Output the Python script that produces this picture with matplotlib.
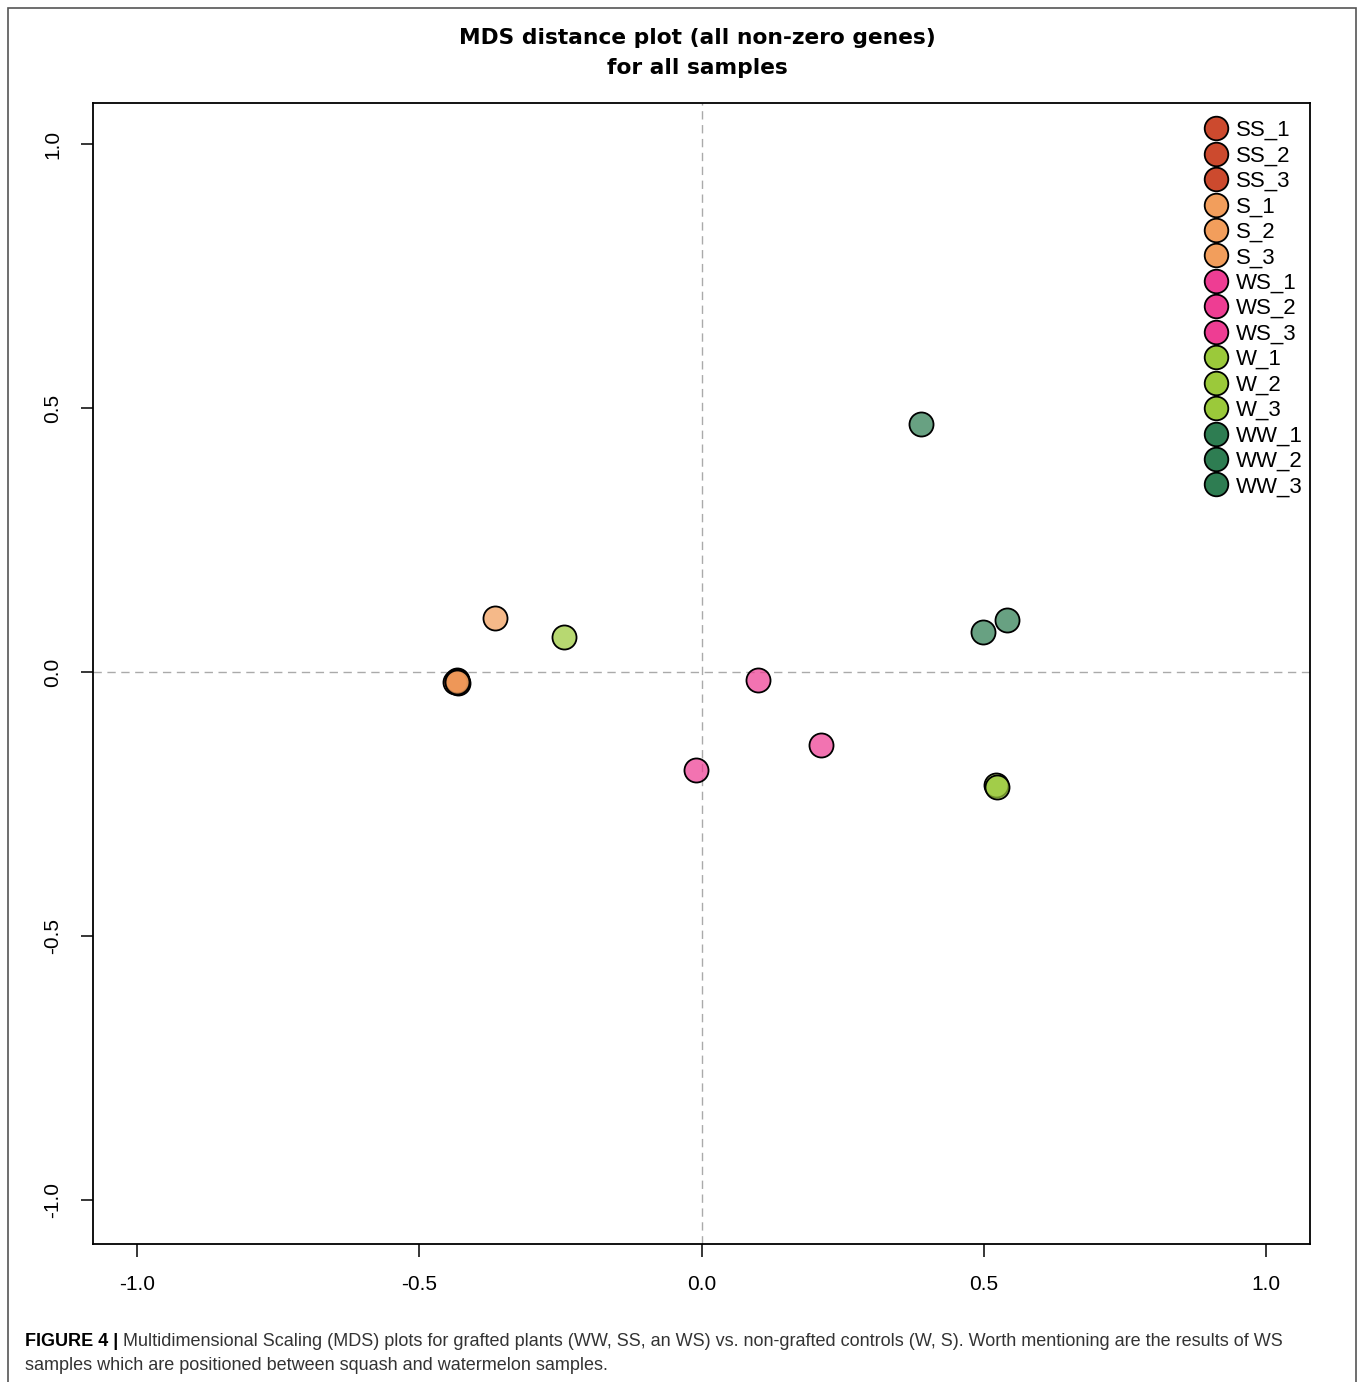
import matplotlib
matplotlib.use("Agg")
import matplotlib.pyplot as plt
from matplotlib.lines import Line2D
from matplotlib.patches import Rectangle
from matplotlib.colors import to_rgba

# MDS coordinates
samples = ["SS_1", "SS_2", "SS_3", "S_1", "S_2", "S_3",
           "WS_1", "WS_2", "WS_3", "W_1", "W_2", "W_3",
           "WW_1", "WW_2", "WW_3"]
dim1 = [-0.434, -0.432, -0.436, -0.366, -0.434, -0.433,
        0.100, 0.212, -0.010, -0.244, 0.521, 0.524,
        0.389, 0.499, 0.541]
dim2 = [-0.015, -0.020, -0.018, 0.102, -0.017, -0.019,
        -0.015, -0.138, -0.186, 0.066, -0.213, -0.217,
        0.470, 0.076, 0.098]
groups = ["SS", "SS", "SS", "S", "S", "S", "WS", "WS", "WS",
          "W", "W", "W", "WW", "WW", "WW"]
group_colors = {"SS": "#CC4A2E", "S": "#F29E5C", "WS": "#EE3D93",
                "W": "#9BC93A", "WW": "#2E7D52"}
ticks = [-1.0, -0.5, 0.0, 0.5, 1.0]
tick_labels = ["-1.0", "-0.5", "0.0", "0.5", "1.0"]

W, H = 1360, 1382
fig = plt.figure(figsize=(W / 100, H / 100), dpi=100)

# outer frame of the figure panel
fig.patches.append(Rectangle((8 / W, -0.01), (1356 - 8) / W, (H - 8) / H + 0.01,
                             transform=fig.transFigure, fill=False,
                             edgecolor="#555555", linewidth=1.2))

ax = fig.add_axes([93 / W, (H - 1244) / H, (1310 - 93) / W, (1244 - 103) / H])
ax.set_xlim(-1.078, 1.078)
ax.set_ylim(-1.083, 1.078)

ax.axhline(0, color="#aaaaaa", linestyle=(0, (6, 4)), linewidth=1.0, zorder=1)
ax.axvline(0, color="#aaaaaa", linestyle=(0, (6, 4)), linewidth=1.0, zorder=1)

for i in range(len(samples)):
    ax.scatter(dim1[i], dim2[i], s=300,
               facecolor=to_rgba(group_colors[groups[i]], 0.72),
               edgecolor="black", linewidth=1.3, zorder=3)

handles = [Line2D([], [], marker="o", linestyle="none", markersize=17,
                  markerfacecolor=group_colors[g], markeredgecolor="black",
                  markeredgewidth=1.3) for g in groups]
ax.legend(handles, samples, loc="upper left", frameon=False,
          bbox_to_anchor=((1207 - 93) / 1217, (1244 - 120) / 1141),
          borderpad=0, borderaxespad=0, handlelength=0.85, handletextpad=0.45,
          labelspacing=0.2, prop={"family": "Liberation Sans", "size": 16})

ax.set_xticks(ticks)
ax.set_xticklabels(tick_labels)
ax.set_yticks(ticks)
ax.set_yticklabels(tick_labels, rotation=90, va="center")
ax.tick_params(length=9, width=1.1, pad=13, labelsize=15)
for lab in ax.get_xticklabels() + ax.get_yticklabels():
    lab.set_family("Liberation Sans")
for sp in ax.spines.values():
    sp.set_linewidth(1.3)

fig.text(697 / W, 1 - 38 / H, "MDS distance plot (all non-zero genes)",
         ha="center", va="center", fontsize=15.7, fontweight="bold",
         family="DejaVu Sans")
fig.text(697 / W, 1 - 68 / H, "for all samples",
         ha="center", va="center", fontsize=15.7, fontweight="bold",
         family="DejaVu Sans")

# caption
cap1 = fig.text(25 / W, 1 - 1341 / H, "FIGURE 4 |", ha="left", va="center",
                fontsize=13, fontweight="bold", family="Liberation Sans")
fig.canvas.draw()
bb = cap1.get_window_extent(fig.canvas.get_renderer())
fig.text((bb.x1 + 5) / W, 1 - 1341 / H,
         "Multidimensional Scaling (MDS) plots for grafted plants (WW, SS, an WS) vs. "
         "non-grafted controls (W, S). Worth mentioning are the results of WS",
         ha="left", va="center", fontsize=13, family="Liberation Sans",
         color="#333333")
fig.text(25 / W, 1 - 1366 / H,
         "samples which are positioned between squash and watermelon samples.",
         ha="left", va="center", fontsize=13, family="Liberation Sans",
         color="#333333")

fig.savefig("out.png", dpi=100)
